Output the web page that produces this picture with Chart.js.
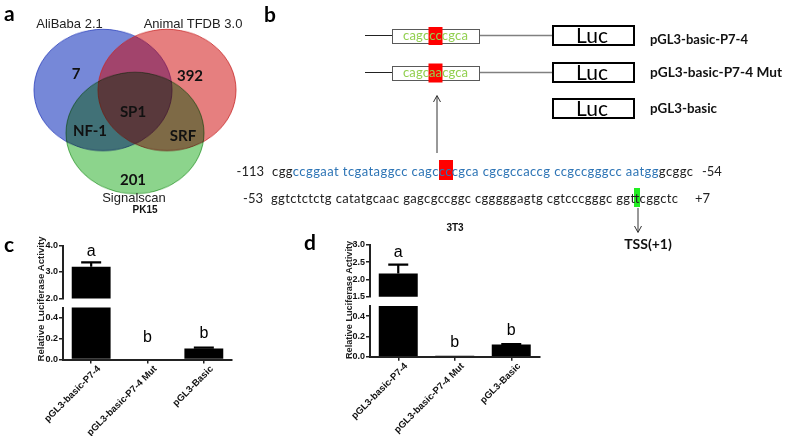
<!DOCTYPE html>
<html><head><meta charset="utf-8">
<script src="https://cdn.jsdelivr.net/npm/chart.js@4.4.1/dist/chart.umd.min.js"></script>
<style>
html,body{margin:0;padding:0;background:#fff;width:790px;height:436px;overflow:hidden;position:relative;}
canvas{position:absolute;}
#ov{position:absolute;left:0;top:0;pointer-events:none;}
</style></head><body>
<canvas id="venn" width="260" height="250" style="left:0;top:0;transform:scaleY(0.88);transform-origin:0 0;"></canvas>
<canvas id="cUp" width="240" height="72" style="left:0;top:233px;"></canvas>
<canvas id="cLow" width="240" height="136" style="left:0;top:300px;"></canvas>
<canvas id="dUp" width="260" height="72" style="left:290px;top:233px;"></canvas>
<canvas id="dLow" width="260" height="138" style="left:290px;top:298px;"></canvas>
<svg id="ov" width="790" height="436" xmlns="http://www.w3.org/2000/svg"></svg>
<script>
// ---------- DATA ----------
const vennSets = ['AliBaba 2.1', 'Animal TFDB 3.0', 'Signalscan'];
const vennRegions = ['7', '392', '201', 'NF-1', 'SRF', 'SP1'];
const constructNames = ['pGL3-basic-P7-4', 'pGL3-basic-P7-4 Mut', 'pGL3-basic'];
const constructMotifs = ['cagccccgca', 'cagcaacgca', null];
const seqLine1 = ['cgg', 'ccggaat tcgataggcc cagccccgca cgcgccaccg ccgccgggcc aatgg', 'gcggc'];
const seqLine2 = 'ggtctctctg catatgcaac gagcgccggc cgggggagtg cgtcccgggc ggttcggctc';
const seqStarts = ['-113', '-53'];
const seqEnds = ['-54', '+7'];
const barCategories = ['pGL3-basic-P7-4', 'pGL3-basic-P7-4 Mut', 'pGL3-Basic'];
const pk15Values = [3.2, 0.008, 0.105];
const pk15Errors = [0.16, 0, 0.01];
const t3Values = [2.17, 0.01, 0.12];
const t3Errors = [0.26, 0, 0.005];
const sigLetters = ['a', 'b', 'b'];
const pk15UpperTicks = [2.0, 2.5, 3.0, 3.5, 4.0];
const t3UpperTicks = [1.5, 2.0, 2.5, 3.0];
const lowerTicks = [0.0, 0.1, 0.2, 0.3, 0.4, 0.5];

// ---------- SVG helpers ----------
const NS = 'http://www.w3.org/2000/svg';
const svg = document.getElementById('ov');
function el(tag, attrs, text, parent) {
  const e = document.createElementNS(NS, tag);
  for (const k in attrs) e.setAttribute(k, attrs[k]);
  if (text != null) e.textContent = text;
  (parent || svg).appendChild(e);
  return e;
}
const CAL = "Lato, 'Open Sans', sans-serif";
const ARI = "'Liberation Sans', Arial, sans-serif";

// ---------- Panel a : Venn (Chart.js bubble) ----------
const vennGeom = { cx: [103, 167, 135], cy: [90, 90, 133], r: 69 };
const vennStyle = {
  fill: ['rgba(60,85,200,0.7)', 'rgba(205,0,0,0.5)', 'rgb(140,212,140)'],
  stroke: ['rgba(50,70,190,0.85)', 'rgba(200,40,40,0.8)', 'rgb(100,185,100)'],
  blend: ['source-over', 'source-over', 'multiply'],
  order: [3, 2, 1]
};
const blendPlugin = {
  id: 'blend',
  beforeDraw(chart) { const c = chart.ctx; c.save(); c.fillStyle = '#fff'; c.fillRect(0, 0, chart.width, chart.height); c.restore(); },
  beforeDatasetDraw(chart, args) { chart.ctx.globalCompositeOperation = chart.data.datasets[args.index].blendMode || 'source-over'; },
  afterDatasetDraw(chart) { chart.ctx.globalCompositeOperation = 'source-over'; }
};
new Chart(document.getElementById('venn'), {
  type: 'bubble',
  data: {
    datasets: vennSets.map((name, i) => ({
      label: name,
      data: [{ x: vennGeom.cx[i], y: vennGeom.cy[i], r: vennGeom.r }],
      backgroundColor: vennStyle.fill[i], borderColor: vennStyle.stroke[i], borderWidth: 1,
      blendMode: vennStyle.blend[i], order: vennStyle.order[i], clip: false
    }))
  },
  options: {
    responsive: false, animation: false, events: [],
    layout: { padding: 0, autoPadding: false },
    plugins: { legend: { display: false }, tooltip: { enabled: false } },
    scales: { x: { display: false, min: 0, max: 260 }, y: { display: false, min: 0, max: 220, reverse: true } }
  },
  plugins: [blendPlugin]
});
const setLabelPos = [[69.5, 28], [193, 28], [134, 202]];
vennSets.forEach((t, i) => el('text', { x: setLabelPos[i][0], y: setLabelPos[i][1], 'text-anchor': 'middle', 'font-family': ARI, 'font-size': 13, fill: '#222' }, t));
const regionPos = [[76, 79], [190, 81], [133, 185], [90, 136], [183, 141], [133, 117]];
vennRegions.forEach((t, i) => el('text', { x: regionPos[i][0], y: regionPos[i][1], 'text-anchor': 'middle', 'font-family': CAL, 'font-weight': 700, 'font-size': 15, fill: '#111' }, t));

// ---------- Panel letters & titles ----------
[['a', 4, 21], ['b', 264, 22], ['c', 4, 252], ['d', 304, 250]].forEach(p =>
  el('text', { x: p[1], y: p[2], 'font-family': CAL, 'font-weight': 700, 'font-size': 21, fill: '#000' }, p[0]));
el('text', { x: 145, y: 213, 'text-anchor': 'middle', 'font-family': ARI, 'font-weight': 700, 'font-size': 10, fill: '#111' }, 'PK15');
el('text', { x: 455, y: 231, 'text-anchor': 'middle', 'font-family': ARI, 'font-weight': 700, 'font-size': 10, fill: '#111' }, '3T3');
el('text', { transform: 'translate(43.5,299) rotate(-90)', 'text-anchor': 'middle', 'font-family': ARI, 'font-weight': 700, 'font-size': 9.5, fill: '#222', textLength: 125, lengthAdjust: 'spacingAndGlyphs' }, 'Relative Luciferase Activity');
el('text', { transform: 'translate(351.5,300) rotate(-90)', 'text-anchor': 'middle', 'font-family': ARI, 'font-weight': 700, 'font-size': 9.5, fill: '#222', textLength: 118, lengthAdjust: 'spacingAndGlyphs' }, 'Relative Luciferase Activity');

// ---------- Panel b : constructs ----------
const rowGeom = [
  { cy: 35.5, boxTop: 29, lucTop: 25, labelY: 44, textY: 40, red: [428.5, 27, 14, 18], labelLen: 98 },
  { cy: 72.5, boxTop: 66, lucTop: 62, labelY: 76.5, textY: 77, red: [428.5, 63.5, 14, 19], labelLen: 132 },
  { lucTop: 98, labelY: 112.5, labelLen: 67 }
];
constructNames.forEach((name, i) => {
  const g = rowGeom[i];
  const motif = constructMotifs[i];
  if (motif) {
    el('line', { x1: 365, y1: g.cy, x2: 392, y2: g.cy, stroke: '#222', 'stroke-width': 1 });
    el('line', { x1: 480, y1: g.cy, x2: 552, y2: g.cy, stroke: '#808080', 'stroke-width': 1.5 });
    el('rect', { x: 392.5, y: g.boxTop + 0.5, width: 87, height: 14, fill: '#fff', stroke: '#595959', 'stroke-width': 1 });
    el('rect', { x: g.red[0], y: g.red[1], width: g.red[2], height: g.red[3], fill: '#ff0000' });
    el('text', { x: 403, y: g.textY, 'font-family': CAL, 'font-size': 13, fill: '#92d050', textLength: 65, lengthAdjust: 'spacing' }, motif);
  }
  el('rect', { x: 553, y: g.lucTop + 1, width: 81, height: 19, fill: '#fff', stroke: '#000', 'stroke-width': 2 });
  el('text', { x: 592, y: g.lucTop + 18, 'text-anchor': 'middle', 'font-family': CAL, 'font-size': 21, fill: '#000' }, 'Luc');
  el('text', { x: 650, y: g.labelY, 'font-family': CAL, 'font-weight': 700, 'font-size': 13, fill: '#111', textLength: g.labelLen, lengthAdjust: 'spacingAndGlyphs' }, name);
});
// arrow up from sequence to construct
el('line', { x1: 437, y1: 153, x2: 437, y2: 96, stroke: '#333', 'stroke-width': 1 });
el('polyline', { points: '433.5,102 437,95.5 440.5,102', fill: 'none', stroke: '#333', 'stroke-width': 1 });
// sequence lines
el('rect', { x: 439, y: 160, width: 14, height: 20, fill: '#ff0000' });
el('rect', { x: 634, y: 188, width: 6, height: 19, fill: '#22ee22' });
el('text', { x: 264, y: 175.5, 'text-anchor': 'end', 'font-family': CAL, 'font-size': 13, fill: '#222' }, seqStarts[0]);
const t1 = el('text', { x: 272, y: 175.5, 'font-family': CAL, 'font-size': 13, textLength: 421, lengthAdjust: 'spacing', 'xml:space': 'preserve' });
el('tspan', { fill: '#222' }, seqLine1[0], t1);
el('tspan', { fill: '#2e75b6' }, seqLine1[1], t1);
el('tspan', { fill: '#222' }, seqLine1[2], t1);
el('text', { x: 702, y: 175.5, 'font-family': CAL, 'font-size': 13, fill: '#222' }, seqEnds[0]);
el('text', { x: 263, y: 202.5, 'text-anchor': 'end', 'font-family': CAL, 'font-size': 13, fill: '#222' }, seqStarts[1]);
el('text', { x: 271, y: 202.5, 'font-family': CAL, 'font-size': 13, fill: '#222', textLength: 407, lengthAdjust: 'spacing' }, seqLine2);
el('text', { x: 695, y: 202.5, 'font-family': CAL, 'font-size': 13, fill: '#222' }, seqEnds[1]);
// TSS arrow
el('line', { x1: 638, y1: 208, x2: 638, y2: 232, stroke: '#333', 'stroke-width': 1 });
el('polyline', { points: '634.5,226 638,232.5 641.5,226', fill: 'none', stroke: '#333', 'stroke-width': 1 });
el('text', { x: 648, y: 249, 'text-anchor': 'middle', 'font-family': CAL, 'font-weight': 700, 'font-size': 14, fill: '#111' }, 'TSS(+1)');

// ---------- Panels c, d : broken-axis bar charts ----------
const barExtras = {
  id: 'barExtras',
  afterDatasetsDraw(chart, args, o) {
    const ctx = chart.ctx, y = chart.scales.y, meta = chart.getDatasetMeta(0);
    ctx.save();
    meta.data.forEach((bar, i) => {
      const v = o.values[i], e = o.errors[i];
      if (e > 0 && v >= y.min && v <= y.max) {
        const top = y.getPixelForValue(v + e), base = y.getPixelForValue(v);
        ctx.strokeStyle = '#000'; ctx.lineWidth = 2.2;
        ctx.beginPath();
        ctx.moveTo(bar.x, base); ctx.lineTo(bar.x, top);
        ctx.moveTo(bar.x - 10, top); ctx.lineTo(bar.x + 10, top);
        ctx.stroke();
      }
      const la = o.letterAt[i];
      if (la >= y.min && la <= y.max) {
        ctx.fillStyle = '#000'; ctx.font = "16px 'Liberation Sans', Arial, sans-serif";
        ctx.textAlign = 'center'; ctx.textBaseline = 'alphabetic';
        ctx.fillText(o.letters[i], bar.x, y.getPixelForValue(la));
      }
    });
    ctx.restore();
  }
};
function barChart(id, c) {
  return new Chart(document.getElementById(id), {
    type: 'bar',
    data: { labels: barCategories, datasets: [{ data: c.values, backgroundColor: '#000', borderWidth: 0, categoryPercentage: 1, barPercentage: 0.69 }] },
    options: {
      responsive: false, animation: false, events: [],
      layout: { padding: { top: c.padTop, bottom: c.padBottom, left: 0, right: c.padRight } },
      plugins: { legend: { display: false }, tooltip: { enabled: false },
        barExtras: { values: c.values, errors: c.errors, letters: sigLetters, letterAt: c.letterAt } },
      scales: {
        x: {
          display: c.showX, offset: true,
          grid: { offset: false, drawOnChartArea: false, drawTicks: true, tickLength: 4, color: '#222', lineWidth: 1.5 },
          border: { display: true, color: '#222', width: 2 },
          ticks: { autoSkip: false, minRotation: 45, maxRotation: 45, padding: 0, labelOffset: 8, color: '#111', font: { family: ARI, weight: 'bold', size: 9.5 } },
          afterFit: s => { if (c.xHeight) s.height = c.xHeight; }
        },
        y: {
          min: c.ticks[0], max: c.ticks[c.ticks.length - 1],
          afterBuildTicks: s => { s.ticks = c.ticks.map(v => ({ value: v })); },
          grid: { drawOnChartArea: false, drawTicks: true, tickLength: 4, color: '#222', lineWidth: 1.5 },
          border: { display: true, color: '#222', width: 2 },
          ticks: { padding: 1, color: '#111', font: { family: ARI, weight: 'bold', size: 9 }, callback: v => Number(v).toFixed(1) },
          afterFit: s => { s.width = c.yWidth; }
        }
      }
    },
    plugins: [barExtras]
  });
}
const pk15LetterAt = [3.61, 0.171, 0.207];
const t3LetterAt = [2.66, 0.093, 0.215];
barChart('cUp', { values: pk15Values, errors: pk15Errors, letterAt: pk15LetterAt, ticks: pk15UpperTicks, showX: false, padTop: 12.5, padBottom: 6.5, padRight: 8, yWidth: 63 });
barChart('cLow', { values: pk15Values, errors: pk15Errors, letterAt: pk15LetterAt, ticks: lowerTicks, showX: true, xHeight: 76.5, padTop: 7.5, padBottom: 0, padRight: 8, yWidth: 63 });
barChart('dUp', { values: t3Values, errors: t3Errors, letterAt: t3LetterAt, ticks: t3UpperTicks, showX: false, padTop: 12, padBottom: 8.3, padRight: 10.5, yWidth: 80 });
barChart('dLow', { values: t3Values, errors: t3Errors, letterAt: t3LetterAt, ticks: lowerTicks, showX: true, xHeight: 79.3, padTop: 8, padBottom: 0, padRight: 10.5, yWidth: 80 });
</script>
</body></html>
